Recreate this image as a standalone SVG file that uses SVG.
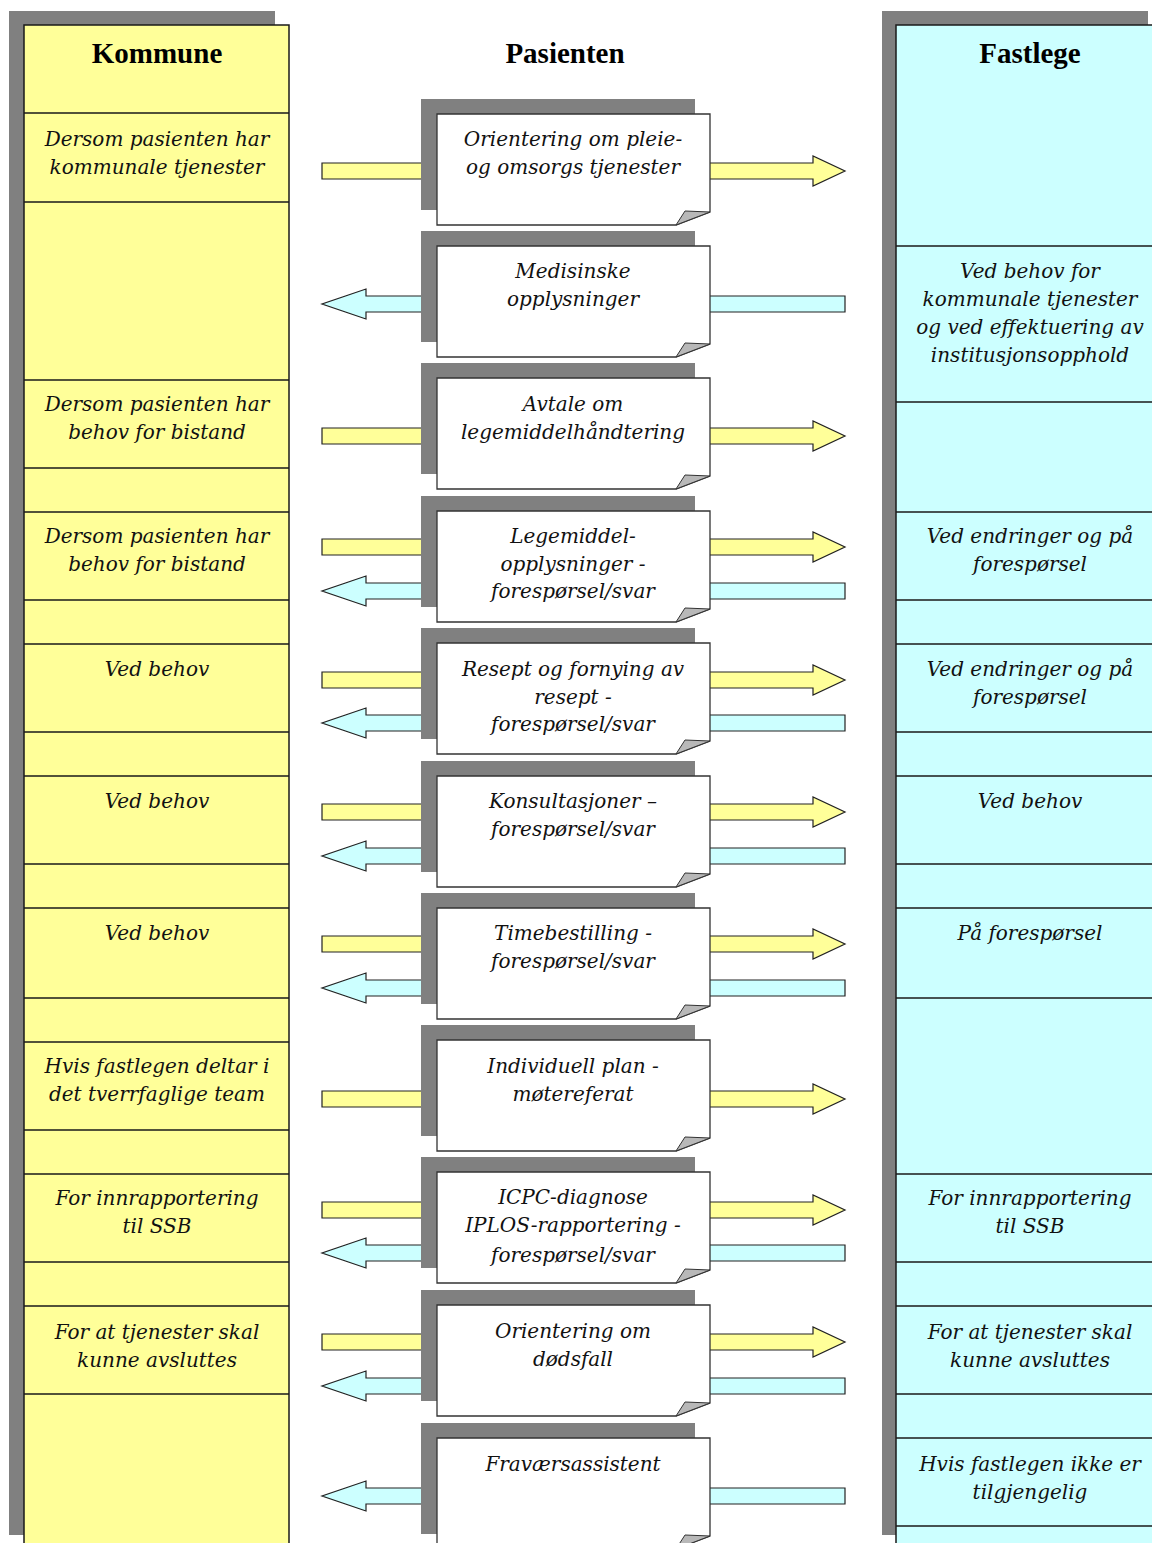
<svg xmlns="http://www.w3.org/2000/svg" width="1152" height="1543" viewBox="0 0 1152 1543">
<defs>
<style>
.shadow{fill:#808080}
.kcol{fill:#FFFF99;stroke:#1a1a1a;stroke-width:1.5}
.fcol{fill:#CCFFFF;stroke:#1a1a1a;stroke-width:1.5}
.sep{stroke:#1a1a1a;stroke-width:1.5;fill:none}
.hdr{font-family:"Liberation Serif",serif;font-weight:bold;font-size:29px;fill:#000;text-anchor:middle}
.t{font-family:"DejaVu Serif",serif;font-style:italic;font-size:20px;fill:#111;text-anchor:middle}
.doc{fill:#fff;stroke:#333;stroke-width:1.3}
.fold{fill:#b8b8b8;stroke:#333;stroke-width:1}
.ay{fill:#FFFF99;stroke:#222;stroke-width:1.2}
.ac{fill:#CCFFFF;stroke:#222;stroke-width:1.2}
</style>
</defs>
<rect width="1152" height="1543" fill="#fff"/>

<g id="kommune">
<rect class="shadow" x="9" y="11" width="266" height="1524"/>
<rect class="kcol" x="24" y="25" width="265" height="1535"/>
<path class="sep" d="M24,113H289M24,202H289M24,380H289M24,468H289M24,512H289M24,600H289M24,644H289M24,732H289M24,776H289M24,864H289M24,908H289M24,998H289M24,1042H289M24,1130H289M24,1174H289M24,1262H289M24,1306H289M24,1394H289"/>
<text class="hdr" x="157" y="63">Kommune</text>
<text class="t" x="157" y="146">Dersom pasienten har</text>
<text class="t" x="157" y="174">kommunale tjenester</text>
<text class="t" x="157" y="411">Dersom pasienten har</text>
<text class="t" x="157" y="439">behov for bistand</text>
<text class="t" x="157" y="543">Dersom pasienten har</text>
<text class="t" x="157" y="571">behov for bistand</text>
<text class="t" x="157" y="676">Ved behov</text>
<text class="t" x="157" y="808">Ved behov</text>
<text class="t" x="157" y="940">Ved behov</text>
<text class="t" x="157" y="1073">Hvis fastlegen deltar i</text>
<text class="t" x="157" y="1101">det tverrfaglige team</text>
<text class="t" x="157" y="1205">For innrapportering</text>
<text class="t" x="157" y="1233">til SSB</text>
<text class="t" x="157" y="1339">For at tjenester skal</text>
<text class="t" x="157" y="1367">kunne avsluttes</text>
</g>

<g id="fastlege">
<rect class="shadow" x="882" y="11" width="266" height="1524"/>
<rect class="fcol" x="896" y="25" width="270" height="1535"/>
<path class="sep" d="M896,246H1166M896,402H1166M896,512H1166M896,600H1166M896,644H1166M896,732H1166M896,776H1166M896,864H1166M896,908H1166M896,998H1166M896,1174H1166M896,1262H1166M896,1306H1166M896,1394H1166M896,1438H1166M896,1526H1166"/>
<text class="hdr" x="1030" y="63">Fastlege</text>
<text class="t" x="1030" y="278">Ved behov for</text>
<text class="t" x="1030" y="306">kommunale tjenester</text>
<text class="t" x="1030" y="334">og ved effektuering av</text>
<text class="t" x="1030" y="362">institusjonsopphold</text>
<text class="t" x="1030" y="543">Ved endringer og på</text>
<text class="t" x="1030" y="571">forespørsel</text>
<text class="t" x="1030" y="676">Ved endringer og på</text>
<text class="t" x="1030" y="704">forespørsel</text>
<text class="t" x="1030" y="808">Ved behov</text>
<text class="t" x="1030" y="940">På forespørsel</text>
<text class="t" x="1030" y="1205">For innrapportering</text>
<text class="t" x="1030" y="1233">til SSB</text>
<text class="t" x="1030" y="1339">For at tjenester skal</text>
<text class="t" x="1030" y="1367">kunne avsluttes</text>
<text class="t" x="1030" y="1471">Hvis fastlegen ikke er</text>
<text class="t" x="1030" y="1499">tilgjengelig</text>
</g>

<g id="pasienten-header">
<text class="hdr" x="565" y="63">Pasienten</text>
</g>

<g id="connectors">
<path class="ay" d="M322,163H813V156L845,171L813,186V179H322Z"/>
<path class="ac" d="M845,296H366V289L322,304L366,319V312H845Z"/>
<path class="ay" d="M322,428H813V421L845,436L813,451V444H322Z"/>
<path class="ay" d="M322,539H813V532L845,547L813,562V555H322Z"/>
<path class="ac" d="M845,583H366V576L322,591L366,606V599H845Z"/>
<path class="ay" d="M322,672H813V665L845,680L813,695V688H322Z"/>
<path class="ac" d="M845,715H366V708L322,723L366,738V731H845Z"/>
<path class="ay" d="M322,804H813V797L845,812L813,827V820H322Z"/>
<path class="ac" d="M845,848H366V841L322,856L366,871V864H845Z"/>
<path class="ay" d="M322,936H813V929L845,944L813,959V952H322Z"/>
<path class="ac" d="M845,980H366V973L322,988L366,1003V996H845Z"/>
<path class="ay" d="M322,1091H813V1084L845,1099L813,1114V1107H322Z"/>
<path class="ay" d="M322,1202H813V1195L845,1210L813,1225V1218H322Z"/>
<path class="ac" d="M845,1245H366V1238L322,1253L366,1268V1261H845Z"/>
<path class="ay" d="M322,1334H813V1327L845,1342L813,1357V1350H322Z"/>
<path class="ac" d="M845,1378H366V1371L322,1386L366,1401V1394H845Z"/>
<path class="ac" d="M845,1488H366V1481L322,1496L366,1511V1504H845Z"/>
</g>

<defs>
<g id="docshape">
<rect class="shadow" x="421" y="-15" width="274" height="111"/>
<path class="doc" d="M437,0H710V98L676,111H437Z"/>
<path class="fold" d="M676,111L685,97L710,98Z"/>
</g>
</defs>

<g id="doc1" transform="translate(0,114)"><use href="#docshape"/>
<text class="t" x="573" y="32">Orientering om pleie-</text>
<text class="t" x="573" y="60">og omsorgs tjenester</text></g>
<g id="doc2" transform="translate(0,246)"><use href="#docshape"/>
<text class="t" x="573" y="32">Medisinske</text>
<text class="t" x="573" y="60">opplysninger</text></g>
<g id="doc3" transform="translate(0,378)"><use href="#docshape"/>
<text class="t" x="573" y="33">Avtale om</text>
<text class="t" x="573" y="61">legemiddelhåndtering</text></g>
<g id="doc4" transform="translate(0,511)"><use href="#docshape"/>
<text class="t" x="573" y="32">Legemiddel-</text>
<text class="t" x="573" y="60">opplysninger -</text>
<text class="t" x="573" y="87">forespørsel/svar</text></g>
<g id="doc5" transform="translate(0,643)"><use href="#docshape"/>
<text class="t" x="573" y="33">Resept og fornying av</text>
<text class="t" x="573" y="61">resept -</text>
<text class="t" x="573" y="88">forespørsel/svar</text></g>
<g id="doc6" transform="translate(0,776)"><use href="#docshape"/>
<text class="t" x="573" y="32">Konsultasjoner –</text>
<text class="t" x="573" y="60">forespørsel/svar</text></g>
<g id="doc7" transform="translate(0,908)"><use href="#docshape"/>
<text class="t" x="573" y="32">Timebestilling -</text>
<text class="t" x="573" y="60">forespørsel/svar</text></g>
<g id="doc8" transform="translate(0,1040)"><use href="#docshape"/>
<text class="t" x="573" y="33">Individuell plan -</text>
<text class="t" x="573" y="61">møtereferat</text></g>
<g id="doc9" transform="translate(0,1172)"><use href="#docshape"/>
<text class="t" x="573" y="32">ICPC-diagnose</text>
<text class="t" x="573" y="60">IPLOS-rapportering -</text>
<text class="t" x="573" y="90">forespørsel/svar</text></g>
<g id="doc10" transform="translate(0,1305)"><use href="#docshape"/>
<text class="t" x="573" y="33">Orientering om</text>
<text class="t" x="573" y="61">dødsfall</text></g>
<g id="doc11" transform="translate(0,1438)"><use href="#docshape"/>
<text class="t" x="573" y="33">Fraværsassistent</text></g>
</svg>
